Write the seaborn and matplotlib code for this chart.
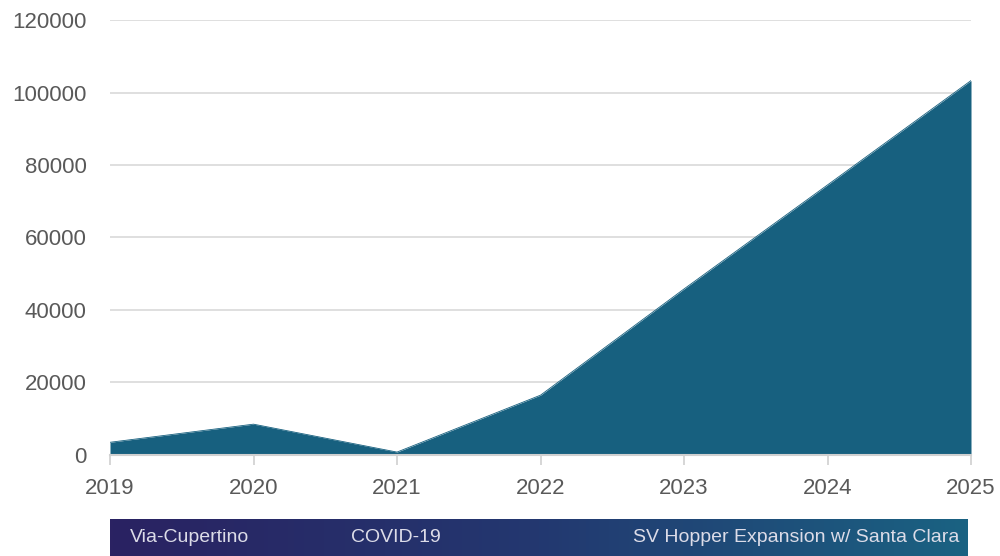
import numpy as np
import pandas as pd
import matplotlib
matplotlib.use("Agg")
import matplotlib.pyplot as plt
import seaborn as sns
from matplotlib.colors import LinearSegmentedColormap

years = [2019, 2020, 2021, 2022, 2023, 2024, 2025]
riders = [3500, 8500, 800, 16500, 45800, 74500, 103300]
y_ticks = [0, 20000, 40000, 60000, 80000, 100000, 120000]
phase_labels = ["Via-Cupertino", "COVID-19", "SV Hopper Expansion w/ Santa Clara"]

sns.set_theme(style="white")
plt.rcParams['font.family'] = ['Liberation Sans', 'DejaVu Sans']

df = pd.DataFrame({"year": years, "riders": riders})

fig = plt.figure(figsize=(10, 5.56), dpi=100)
ax = fig.add_axes([0.11, 0.1817, 0.861, 0.7823])

area_color = "#17607f"
sns.lineplot(data=df, x="year", y="riders", ax=ax, color=area_color, linewidth=0.6)
ax.fill_between(df["year"], df["riders"], 0, color=area_color, linewidth=0, zorder=2)

ax.set_xlim(years[0], years[-1])
ax.set_ylim(0, 120000)
ax.set_yticks(y_ticks)
ax.set_yticklabels([str(v) for v in y_ticks])
ax.set_xticks(years)
ax.set_xticklabels([str(y) for y in years])
ax.set_xlabel("")
ax.set_ylabel("")
ax.yaxis.grid(True, color="#d9d9d9", linewidth=1.2, zorder=0)
ax.set_axisbelow(True)
for s in ["top", "right", "left"]:
    ax.spines[s].set_visible(False)
ax.spines["bottom"].set_color("#d0d0d0")
ax.spines["bottom"].set_linewidth(1.5)
ax.spines["bottom"].set_zorder(3)
ax.tick_params(axis="x", which="both", bottom=True, length=7, width=1.2, color="#d0d0d0",
               labelsize=16, labelcolor="#595959", pad=9.5)
ax.tick_params(axis="y", left=False, length=0, labelsize=16, labelcolor="#595959", pad=17)

# phase band
bax = fig.add_axes([0.11, 0.0, 0.858, 0.0665])
cmap = LinearSegmentedColormap.from_list("band", ["#2a2262", "#233870", "#1a6282"])
grad = np.linspace(0, 1, 256).reshape(1, -1)
bax.imshow(grad, aspect="auto", cmap=cmap, extent=[0, 1, 0, 1])
bax.set_xlim(0, 1)
bax.set_ylim(0, 1)
bax.axis("off")
tc = "#dcdce8"
bax.text(0.023, 0.5, phase_labels[0], color=tc, fontsize=14, va="center", ha="left")
bax.text(0.281, 0.5, phase_labels[1], color=tc, fontsize=14, va="center", ha="left")
bax.text(0.99, 0.5, phase_labels[2], color=tc, fontsize=14, va="center", ha="right")

fig.savefig("out.png", dpi=100)
